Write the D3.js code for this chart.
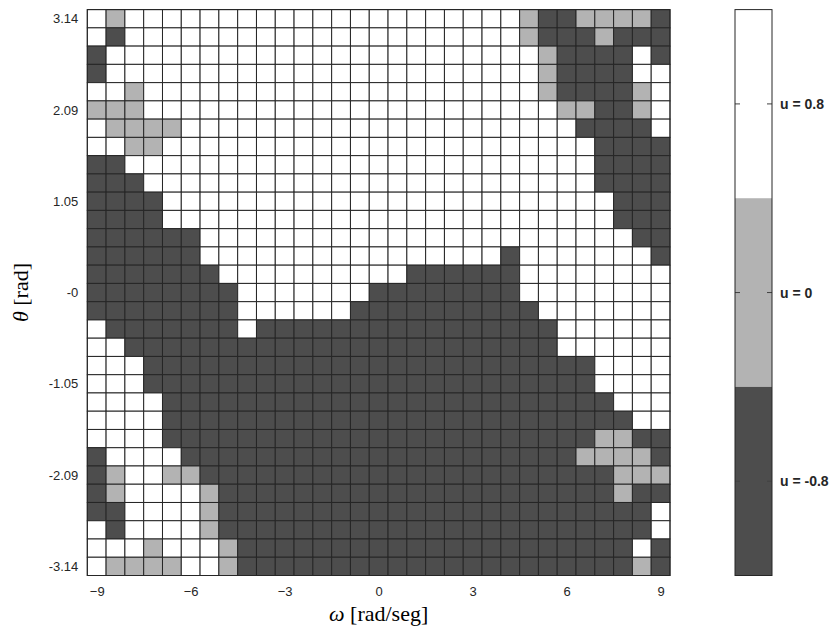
<!DOCTYPE html>
<html>
<head>
<meta charset="utf-8">
<script src="https://cdn.jsdelivr.net/npm/d3@7"></script>
<style>
  body { margin: 0; background: #fff; }
  text { font-family: "Liberation Sans", Arial, sans-serif; }
</style>
</head>
<body>
<div id="chart"></div>
<script>
// valores de control u
const H = 0.8, Z = 0, L = -0.8;

// velocidad angular (columnas) y ángulo (filas)
const omega = [-9, -8.4, -7.8, -7.2, -6.6, -6, -5.4, -4.8, -4.2, -3.6, -3, -2.4, -1.8, -1.2, -0.6,
  0, 0.6, 1.2, 1.8, 2.4, 3, 3.6, 4.2, 4.8, 5.4, 6, 6.6, 7.2, 7.8, 8.4, 9];
const theta = [3.1416, 2.9322, 2.7227, 2.5133, 2.3038, 2.0944, 1.885, 1.6755, 1.4661, 1.2566,
  1.0472, 0.8378, 0.6283, 0.4189, 0.2094, 0, -0.2094, -0.4189, -0.6283, -0.8378, -1.0472,
  -1.2566, -1.4661, -1.6755, -1.885, -2.0944, -2.3038, -2.5133, -2.7227, -2.9322, -3.1416];

const xTicks = [-9, -6, -3, 0, 3, 6, 9];
const yTicks = [3.1416, 2.0944, 1.0472, 0, -1.0472, -2.0944, -3.1416];
const yTickLabels = ["3.14", "2.09", "1.05", "-0", "-1.05", "-2.09", "-3.14"];
const levels = [0.8, 0, -0.8];
const levelLabels = ["u = 0.8", "u = 0", "u = -0.8"];

// política u(theta, omega): una fila por theta (de arriba a abajo)
const policy = [
  [H,Z,H,H,H,H,H,H,H,H,H,H,H,H,H,H,H,H,H,H,H,H,H,Z,L,L,Z,Z,Z,Z,L],
  [H,L,H,H,H,H,H,H,H,H,H,H,H,H,H,H,H,H,H,H,H,H,H,Z,L,L,L,Z,L,L,L],
  [L,H,H,H,H,H,H,H,H,H,H,H,H,H,H,H,H,H,H,H,H,H,H,H,Z,L,L,L,L,H,L],
  [L,H,H,H,H,H,H,H,H,H,H,H,H,H,H,H,H,H,H,H,H,H,H,H,Z,L,L,L,L,H,H],
  [H,H,Z,H,H,H,H,H,H,H,H,H,H,H,H,H,H,H,H,H,H,H,H,H,Z,L,L,L,L,Z,H],
  [Z,Z,Z,H,H,H,H,H,H,H,H,H,H,H,H,H,H,H,H,H,H,H,H,H,H,Z,Z,L,L,Z,H],
  [H,Z,Z,Z,Z,H,H,H,H,H,H,H,H,H,H,H,H,H,H,H,H,H,H,H,H,H,L,L,L,L,H],
  [H,H,Z,Z,H,H,H,H,H,H,H,H,H,H,H,H,H,H,H,H,H,H,H,H,H,H,H,L,L,L,L],
  [L,L,H,H,H,H,H,H,H,H,H,H,H,H,H,H,H,H,H,H,H,H,H,H,H,H,H,L,L,L,L],
  [L,L,L,H,H,H,H,H,H,H,H,H,H,H,H,H,H,H,H,H,H,H,H,H,H,H,H,L,L,L,L],
  [L,L,L,L,H,H,H,H,H,H,H,H,H,H,H,H,H,H,H,H,H,H,H,H,H,H,H,H,L,L,L],
  [L,L,L,L,H,H,H,H,H,H,H,H,H,H,H,H,H,H,H,H,H,H,H,H,H,H,H,H,L,L,L],
  [L,L,L,L,L,L,H,H,H,H,H,H,H,H,H,H,H,H,H,H,H,H,H,H,H,H,H,H,H,L,L],
  [L,L,L,L,L,L,H,H,H,H,H,H,H,H,H,H,H,H,H,H,H,H,L,H,H,H,H,H,H,H,L],
  [L,L,L,L,L,L,L,H,H,H,H,H,H,H,H,H,H,L,L,L,L,L,L,H,H,H,H,H,H,H,H],
  [L,L,L,L,L,L,L,L,H,H,H,H,H,H,H,L,L,L,L,L,L,L,L,H,H,H,H,H,H,H,H],
  [L,L,L,L,L,L,L,L,H,H,H,H,H,H,L,L,L,L,L,L,L,L,L,L,H,H,H,H,H,H,H],
  [H,L,L,L,L,L,L,L,H,L,L,L,L,L,L,L,L,L,L,L,L,L,L,L,L,H,H,H,H,H,H],
  [H,H,L,L,L,L,L,L,L,L,L,L,L,L,L,L,L,L,L,L,L,L,L,L,L,H,H,H,H,H,H],
  [H,H,H,L,L,L,L,L,L,L,L,L,L,L,L,L,L,L,L,L,L,L,L,L,L,L,L,H,H,H,H],
  [H,H,H,L,L,L,L,L,L,L,L,L,L,L,L,L,L,L,L,L,L,L,L,L,L,L,L,H,H,H,H],
  [H,H,H,H,L,L,L,L,L,L,L,L,L,L,L,L,L,L,L,L,L,L,L,L,L,L,L,L,H,H,H],
  [H,H,H,H,L,L,L,L,L,L,L,L,L,L,L,L,L,L,L,L,L,L,L,L,L,L,L,L,L,H,H],
  [H,H,H,H,L,L,L,L,L,L,L,L,L,L,L,L,L,L,L,L,L,L,L,L,L,L,L,Z,Z,L,L],
  [L,H,H,H,H,L,L,L,L,L,L,L,L,L,L,L,L,L,L,L,L,L,L,L,L,L,Z,Z,Z,Z,L],
  [L,Z,H,H,Z,Z,L,L,L,L,L,L,L,L,L,L,L,L,L,L,L,L,L,L,L,L,L,L,Z,Z,Z],
  [L,Z,H,H,H,H,Z,L,L,L,L,L,L,L,L,L,L,L,L,L,L,L,L,L,L,L,L,L,Z,L,L],
  [L,L,H,H,H,H,Z,L,L,L,L,L,L,L,L,L,L,L,L,L,L,L,L,L,L,L,L,L,L,L,H],
  [H,L,H,H,H,H,Z,L,L,L,L,L,L,L,L,L,L,L,L,L,L,L,L,L,L,L,L,L,L,L,H],
  [H,H,H,Z,H,H,H,Z,L,L,L,L,L,L,L,L,L,L,L,L,L,L,L,L,L,L,L,L,L,H,L],
  [H,Z,Z,Z,Z,H,H,Z,L,L,L,L,L,L,L,L,L,L,L,L,L,L,L,L,L,L,L,L,L,Z,L]
];

const width = 838, height = 633;
const plot = { left: 87.3, right: 670, top: 9.6, bottom: 575.5 };
const cbar = { left: 735, right: 772 };

const dx = omega[1] - omega[0];
const dy = theta[0] - theta[1];

const color = d3.scaleOrdinal().domain(levels).range(["#ffffff", "#b3b3b3", "#4d4d4d"]);

const x = d3.scaleLinear()
  .domain([omega[0] - dx / 2, omega[omega.length - 1] + dx / 2])
  .range([plot.left, plot.right]);
const y = d3.scaleLinear()
  .domain([theta[0] + dy / 2, theta[theta.length - 1] - dy / 2])
  .range([plot.top, plot.bottom]);

const svg = d3.select("#chart").append("svg")
  .attr("width", width)
  .attr("height", height);

// celdas
const cells = [];
policy.forEach((row, i) => {
  row.forEach((u, j) => cells.push({ w: omega[j], t: theta[i], u }));
});

svg.append("g")
  .selectAll("rect")
  .data(cells)
  .enter()
  .append("rect")
  .attr("x", (d) => x(d.w - dx / 2))
  .attr("y", (d) => y(d.t + dy / 2))
  .attr("width", x(dx) - x(0))
  .attr("height", y(0) - y(dy))
  .attr("fill", (d) => color(d.u))
  .attr("stroke", "#262626")
  .attr("stroke-width", 1);

// ejes
const xAxis = svg.append("g")
  .attr("transform", `translate(0,${plot.bottom})`)
  .call(d3.axisBottom(x).tickValues(xTicks).tickFormat(d3.format("d")).tickSize(0).tickPadding(11));
const yAxis = svg.append("g")
  .attr("transform", `translate(${plot.left},0)`)
  .call(d3.axisLeft(y).tickValues(yTicks).tickFormat((d, i) => yTickLabels[i]).tickSize(0).tickPadding(9));

[xAxis, yAxis].forEach((a) => {
  a.select(".domain").remove();
  a.selectAll("text").attr("font-size", 13).attr("fill", "#262626")
    .style("font-family", '"Liberation Sans", Arial, sans-serif');
});

svg.append("rect")
  .attr("x", plot.left).attr("y", plot.top)
  .attr("width", plot.right - plot.left).attr("height", plot.bottom - plot.top)
  .attr("fill", "none").attr("stroke", "#262626").attr("stroke-width", 1);

// etiquetas de ejes
const xl = svg.append("text")
  .attr("x", (plot.left + plot.right) / 2)
  .attr("y", 621)
  .attr("text-anchor", "middle")
  .style("font-family", '"Liberation Serif", "Times New Roman", serif')
  .attr("font-size", 22)
  .attr("fill", "#000");
xl.append("tspan").attr("font-style", "italic").text("ω");
xl.append("tspan").text(" [rad/seg]");

const yl = svg.append("text")
  .attr("transform", `translate(28,${(plot.top + plot.bottom) / 2}) rotate(-90)`)
  .attr("text-anchor", "middle")
  .style("font-family", '"Liberation Serif", "Times New Roman", serif')
  .attr("font-size", 22)
  .attr("fill", "#000");
yl.append("tspan").attr("font-style", "italic").text("θ");
yl.append("tspan").text(" [rad]");

// barra de color
const cy = d3.scaleLinear().domain([1.2, -1.2]).range([plot.top, plot.bottom]);
const cbw = cbar.right - cbar.left;

svg.append("g")
  .selectAll("rect")
  .data(levels)
  .enter()
  .append("rect")
  .attr("x", cbar.left)
  .attr("y", (d) => cy(d + 0.4))
  .attr("width", cbw)
  .attr("height", cy(-0.4) - cy(0.4))
  .attr("fill", (d) => color(d));

svg.append("g")
  .selectAll("line")
  .data(levels)
  .enter()
  .append("g")
  .each(function (d) {
    const g = d3.select(this);
    g.append("line").attr("x1", cbar.left).attr("x2", cbar.left + 5)
      .attr("y1", cy(d)).attr("y2", cy(d)).attr("stroke", "#404040");
    g.append("line").attr("x1", cbar.right - 5).attr("x2", cbar.right)
      .attr("y1", cy(d)).attr("y2", cy(d)).attr("stroke", "#404040");
  });

svg.append("rect")
  .attr("x", cbar.left).attr("y", plot.top)
  .attr("width", cbw).attr("height", plot.bottom - plot.top)
  .attr("fill", "none").attr("stroke", "#262626").attr("stroke-width", 1);

const cAxis = svg.append("g")
  .attr("transform", `translate(${cbar.right},0)`)
  .call(d3.axisRight(cy).tickValues(levels).tickFormat((d, i) => levelLabels[i]).tickSize(0).tickPadding(8));
cAxis.select(".domain").remove();
cAxis.selectAll("text")
  .attr("font-size", 14)
  .attr("font-weight", "bold")
  .attr("fill", "#262626")
  .style("font-family", '"Liberation Sans", Arial, sans-serif');
</script>
</body>
</html>
